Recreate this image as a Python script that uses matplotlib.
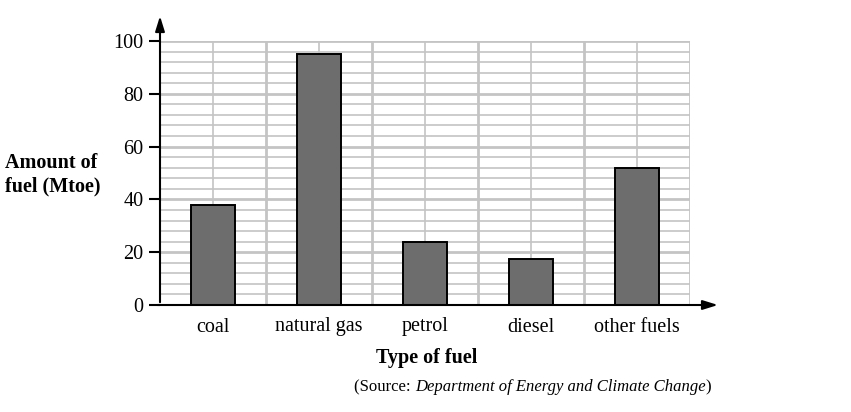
import matplotlib
matplotlib.use("Agg")
import matplotlib.pyplot as plt
import numpy as np

plt.rcParams['font.family'] = ['Liberation Serif', 'DejaVu Serif']

fuels = ['coal', 'natural gas', 'petrol', 'diesel', 'other fuels']
amounts = [38, 95, 24, 17.5, 52]
y_ticks = [0, 20, 40, 60, 80, 100]

grid_col = '#c4c4c4'
bar_col = '#6d6d6d'

fig = plt.figure(figsize=(8.51, 4.12), dpi=100)
ax = fig.add_axes([160/851, 1 - 305/412, 530/851, 264/412])

x = np.arange(len(fuels))
ax.set_xlim(-0.5, len(fuels) - 0.5)
ax.set_ylim(0, 100)

# grid: minor every 4 units, major every 20
for yv in np.arange(4, 101, 4):
    lw = 2.0 if yv % 20 == 0 else 1.2
    ax.axhline(yv, color=grid_col, lw=lw, zorder=1)
for xv in x:
    ax.axvline(xv, color=grid_col, lw=1.2, zorder=1)
for xv in x[:-1] + 0.5:
    ax.axvline(xv, color=grid_col, lw=2.0, zorder=1)
ax.axvline(len(fuels) - 0.5, color=grid_col, lw=2.0, zorder=1)

ax.bar(x, amounts, width=0.41, color=bar_col, edgecolor='black', lw=1.4, zorder=3)

for s in ['top', 'right', 'left', 'bottom']:
    ax.spines[s].set_visible(False)

# axes with arrows
ax.annotate('', xy=(0, 1.105), xytext=(0, 0), xycoords='axes fraction',
            arrowprops=dict(arrowstyle='-|>,head_width=0.28,head_length=0.9', color='black', lw=1.5),
            annotation_clip=False, zorder=5)
ax.annotate('', xy=(1.058, 0), xytext=(-0.01, 0), xycoords='axes fraction',
            arrowprops=dict(arrowstyle='-|>,head_width=0.28,head_length=0.9', color='black', lw=1.5),
            annotation_clip=False, zorder=5)

ax.set_yticks(y_ticks)
ax.set_yticklabels([str(v) for v in y_ticks], fontsize=14.5)
ax.tick_params(axis='y', length=8, width=1.5, pad=4)
ax.set_xticks(x)
ax.set_xticklabels(fuels, fontsize=14.5)
ax.tick_params(axis='x', length=0, pad=9)

fig.text(5/851, 1 - 175/412, 'Amount of\nfuel (Mtoe)', fontsize=14.5, fontweight='bold',
         ha='left', va='center', linespacing=1.2)
fig.text(427/851, 1 - 358/412, 'Type of fuel', fontsize=14.5, fontweight='bold',
         ha='center', va='center')

# source line with italic part
t1 = fig.text(354/851, 1 - 387/412, '(Source: ', fontsize=12, ha='left', va='center')
fig.canvas.draw()
r = fig.canvas.get_renderer()
w1 = t1.get_window_extent(r).width
t2 = fig.text(354/851 + w1/851, 1 - 387/412, 'Department of Energy and Climate Change',
              fontsize=12, style='italic', ha='left', va='center')
w2 = t2.get_window_extent(r).width
fig.text(354/851 + (w1 + w2)/851, 1 - 387/412, ')', fontsize=12, ha='left', va='center')

fig.savefig('out.png', dpi=100)
